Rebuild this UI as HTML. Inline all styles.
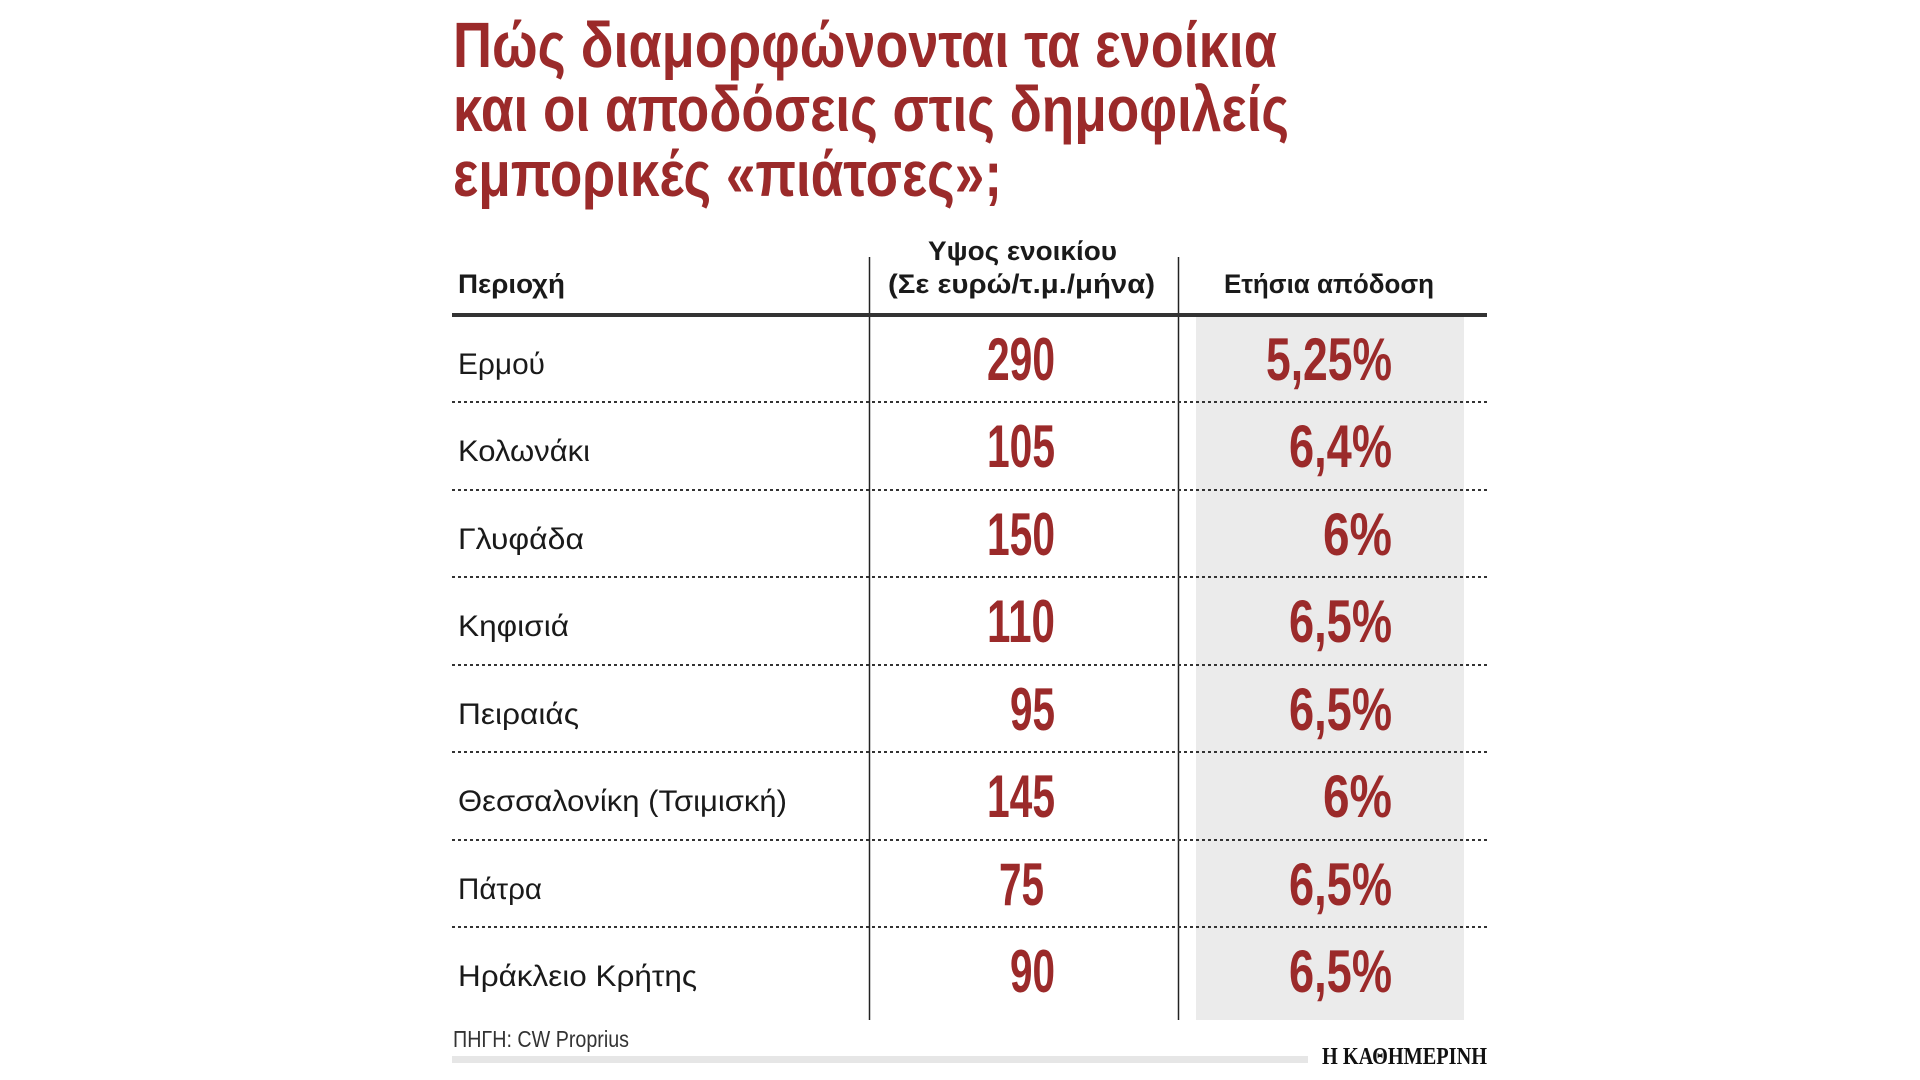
<!DOCTYPE html>
<html><head><meta charset="utf-8"><style>
html,body{margin:0;padding:0;background:#fff;width:1920px;height:1080px;overflow:hidden}
svg{display:block}
.t{font-family:"Liberation Sans Narrow","Liberation Sans",sans-serif;font-weight:bold;fill:#9b2a2a;font-size:64px}
.h{font-family:"Liberation Sans Narrow","Liberation Sans",sans-serif;font-weight:bold;fill:#1a1a1a;font-size:27px}
.n{font-family:"Liberation Sans Narrow","Liberation Sans",sans-serif;fill:#1a1a1a;font-size:30px}
.v{font-family:"Liberation Sans Narrow","Liberation Sans",sans-serif;font-weight:bold;fill:#9b2a2a;font-size:60px}
.s{font-family:"Liberation Sans Narrow","Liberation Sans",sans-serif;fill:#333;font-size:23px}
.l{font-family:"Liberation Serif",serif;font-weight:bold;fill:#111;font-size:24px}
</style></head><body>
<svg width="1920" height="1080" viewBox="0 0 1920 1080" xmlns="http://www.w3.org/2000/svg">
<text class="t" x="453" y="67" textLength="824" lengthAdjust="spacingAndGlyphs">Πώς διαμορφώνονται τα ενοίκια</text>
<text class="t" x="453" y="131" textLength="836" lengthAdjust="spacingAndGlyphs">και οι αποδόσεις στις δημοφιλείς</text>
<text class="t" x="453" y="196" textLength="549" lengthAdjust="spacingAndGlyphs">εμπορικές «πιάτσες»;</text>

<rect x="1196" y="317" width="268" height="703" fill="#ebebeb"/>
<line x1="869.5" y1="257" x2="869.5" y2="1020" stroke="#222" stroke-width="1.5"/>
<line x1="1178.5" y1="257" x2="1178.5" y2="1020" stroke="#222" stroke-width="1.5"/>
<rect x="452" y="313" width="1035" height="4" fill="#333"/>

<text class="h" x="458" y="293" textLength="107" lengthAdjust="spacingAndGlyphs">Περιοχή</text>
<text class="h" x="928" y="260" textLength="189" lengthAdjust="spacingAndGlyphs">Υψος ενοικίου</text>
<text class="h" x="888" y="293" textLength="267" lengthAdjust="spacingAndGlyphs">(Σε ευρώ/τ.μ./μήνα)</text>
<text class="h" x="1224" y="293" textLength="210" lengthAdjust="spacingAndGlyphs">Ετήσια απόδοση</text>

<g stroke="#333" stroke-width="2" stroke-dasharray="3,3">
<line x1="452" y1="402" x2="1487" y2="402"/>
<line x1="452" y1="490" x2="1487" y2="490"/>
<line x1="452" y1="577" x2="1487" y2="577"/>
<line x1="452" y1="665" x2="1487" y2="665"/>
<line x1="452" y1="752" x2="1487" y2="752"/>
<line x1="452" y1="840" x2="1487" y2="840"/>
<line x1="452" y1="927" x2="1487" y2="927"/>
</g>

<text class="n" x="458" y="374" textLength="87" lengthAdjust="spacingAndGlyphs">Ερμού</text>
<text class="n" x="458" y="461" textLength="132" lengthAdjust="spacingAndGlyphs">Κολωνάκι</text>
<text class="n" x="458" y="549" textLength="126" lengthAdjust="spacingAndGlyphs">Γλυφάδα</text>
<text class="n" x="458" y="636" textLength="111" lengthAdjust="spacingAndGlyphs">Κηφισιά</text>
<text class="n" x="458" y="724" textLength="121" lengthAdjust="spacingAndGlyphs">Πειραιάς</text>
<text class="n" x="458" y="811" textLength="329" lengthAdjust="spacingAndGlyphs">Θεσσαλονίκη (Τσιμισκή)</text>
<text class="n" x="458" y="899" textLength="84" lengthAdjust="spacingAndGlyphs">Πάτρα</text>
<text class="n" x="458" y="986" textLength="239" lengthAdjust="spacingAndGlyphs">Ηράκλειο Κρήτης</text>

<text class="v" x="987" y="380" textLength="68" lengthAdjust="spacingAndGlyphs">290</text>
<text class="v" x="987" y="467" textLength="68" lengthAdjust="spacingAndGlyphs">105</text>
<text class="v" x="987" y="555" textLength="68" lengthAdjust="spacingAndGlyphs">150</text>
<text class="v" x="987" y="642" textLength="68" lengthAdjust="spacingAndGlyphs">110</text>
<text class="v" x="1010" y="730" textLength="45" lengthAdjust="spacingAndGlyphs">95</text>
<text class="v" x="987" y="817" textLength="68" lengthAdjust="spacingAndGlyphs">145</text>
<text class="v" x="999" y="905" textLength="45" lengthAdjust="spacingAndGlyphs">75</text>
<text class="v" x="1010" y="992" textLength="45" lengthAdjust="spacingAndGlyphs">90</text>

<text class="v" x="1266" y="380" textLength="126" lengthAdjust="spacingAndGlyphs">5,25%</text>
<text class="v" x="1289" y="467" textLength="103" lengthAdjust="spacingAndGlyphs">6,4%</text>
<text class="v" x="1323" y="555" textLength="69" lengthAdjust="spacingAndGlyphs">6%</text>
<text class="v" x="1289" y="642" textLength="103" lengthAdjust="spacingAndGlyphs">6,5%</text>
<text class="v" x="1289" y="730" textLength="103" lengthAdjust="spacingAndGlyphs">6,5%</text>
<text class="v" x="1323" y="817" textLength="69" lengthAdjust="spacingAndGlyphs">6%</text>
<text class="v" x="1289" y="905" textLength="103" lengthAdjust="spacingAndGlyphs">6,5%</text>
<text class="v" x="1289" y="992" textLength="103" lengthAdjust="spacingAndGlyphs">6,5%</text>

<text class="s" x="453" y="1047" textLength="176" lengthAdjust="spacingAndGlyphs">ΠΗΓΗ: CW Proprius</text>
<rect x="452" y="1056" width="856" height="7" fill="#e6e6e6"/>
<text class="l" x="1322" y="1064" textLength="165" lengthAdjust="spacingAndGlyphs">Η ΚΑΘΗΜΕΡΙΝΗ</text>
</svg>
</body></html>
